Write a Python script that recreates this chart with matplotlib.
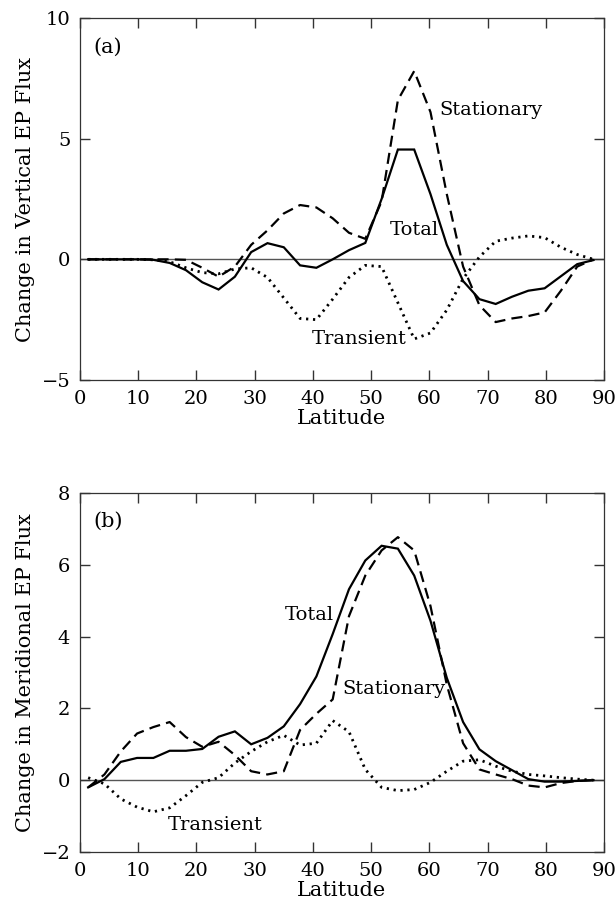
import numpy as np
import matplotlib
matplotlib.use("Agg")
import matplotlib.pyplot as plt

# Latitude grid (degrees)
lat = [1.4 + 2.8 * i for i in range(32)]

# Panel (a): change in vertical EP flux
total_a = [0.0, 0.0, 0.0, 0.0, -0.02, -0.15, -0.45, -0.95, -1.25, -0.72,
           0.3, 0.67, 0.5, -0.25, -0.35, 0.0, 0.38, 0.68, 2.5, 4.55,
           4.55, 2.7, 0.6, -0.9, -1.65, -1.85, -1.55, -1.3, -1.2, -0.7,
           -0.2, -0.03]
stat_a = [0.0, 0.0, 0.0, 0.0, 0.0, 0.0, -0.02, -0.35, -0.72, -0.3,
          0.6, 1.2, 1.9, 2.25, 2.15, 1.7, 1.1, 0.85, 2.4, 6.6,
          7.8, 6.1, 2.7, -0.3, -1.9, -2.6, -2.45, -2.35, -2.2, -1.3,
          -0.3, 0.0]
trans_a = [0.0, 0.0, 0.0, 0.0, -0.02, -0.1, -0.35, -0.55, -0.6, -0.4,
           -0.35, -0.75, -1.6, -2.45, -2.5, -1.65, -0.75, -0.25, -0.3, -1.8,
           -3.3, -3.05, -2.1, -0.8, 0.1, 0.75, 0.88, 0.97, 0.9, 0.5,
           0.2, 0.0]

# Panel (b): change in meridional EP flux
total_b = [-0.2, 0.03, 0.51, 0.62, 0.62, 0.82, 0.82, 0.87, 1.21, 1.36,
           1.0, 1.18, 1.5, 2.12, 2.89, 4.07, 5.32, 6.12, 6.53, 6.45,
           5.7, 4.44, 2.85, 1.62, 0.86, 0.53, 0.28, 0.03, -0.04, -0.04,
           -0.02, 0.0]
stat_b = [-0.2, 0.16, 0.8, 1.3, 1.48, 1.62, 1.2, 0.93, 1.07, 0.7,
          0.25, 0.16, 0.25, 1.4, 1.85, 2.25, 4.57, 5.7, 6.4, 6.77,
          6.4, 4.85, 2.66, 1.03, 0.3, 0.16, 0.03, -0.15, -0.2, -0.08,
          -0.02, 0.0]
trans_b = [0.07, -0.1, -0.52, -0.75, -0.88, -0.77, -0.43, -0.06, 0.07, 0.48,
           0.8, 1.07, 1.25, 0.98, 1.03, 1.66, 1.35, 0.3, -0.2, -0.29,
           -0.26, -0.06, 0.25, 0.53, 0.57, 0.39, 0.25, 0.16, 0.12, 0.07,
           0.03, 0.0]

xticks = [0, 10, 20, 30, 40, 50, 60, 70, 80, 90]
yticks_a = [-5, 0, 5, 10]
yticks_b = [-2, 0, 2, 4, 6, 8]

plt.rcParams['font.family'] = ['DejaVu Serif']
plt.rcParams['mathtext.fontset'] = 'dejavuserif'

W, H = 616, 913
fig = plt.figure(figsize=(W / 100, H / 100), dpi=100)

def make_ax(top_px, bot_px):
    left, right = 80, 604
    return fig.add_axes([left / W, 1 - bot_px / H, (right - left) / W, (bot_px - top_px) / H])

ax_a = make_ax(18, 380)
ax_b = make_ax(493, 852)

panels = [
    (ax_a, total_a, stat_a, trans_a, (-5, 10), yticks_a, "Change in Vertical EP Flux", "(a)",
     [("Stationary", 70.5, 6.2), ("Total", 57.4, 1.2), ("Transient", 48.0, -3.3)]),
    (ax_b, total_b, stat_b, trans_b, (-2, 8), yticks_b, "Change in Meridional EP Flux", "(b)",
     [("Total", 39.4, 4.6), ("Stationary", 54.0, 2.55), ("Transient", 23.2, -1.25)]),
]

for ax, tot, st, tr, ylim, yt, ylabel, tag, labels in panels:
    ax.axhline(0, color='#555555', lw=1.0, zorder=1)
    ax.plot(lat, tot, color='black', lw=1.6, solid_joinstyle='miter', zorder=3)
    ax.plot(lat, st, color='black', lw=1.6, linestyle=(0, (5, 2.8)), zorder=3)
    ax.plot(lat, tr, color='black', lw=2.0, linestyle=(0, (0.8, 1.7)),
            dash_capstyle='butt', zorder=3)
    ax.set_xlim(0, 90)
    ax.set_ylim(*ylim)
    ax.set_xticks(xticks)
    ax.set_yticks(yt)
    ax.set_yticklabels([("\u2212" + str(-v)) if v < 0 else str(v) for v in yt])
    ax.tick_params(direction='in', length=7, width=1, top=True, right=True,
                   labelsize=14, pad=7, color='#333333')
    ax.set_xlabel("Latitude", fontsize=15, labelpad=1)
    ax.set_ylabel(ylabel, fontsize=15, labelpad=5)
    for s in ax.spines.values():
        s.set_linewidth(0.9)
        s.set_color('#333333')
    ax.text(0.025, 0.92, tag, transform=ax.transAxes, fontsize=15, ha='left', va='center')
    for txt, x, y in labels:
        ax.text(x, y, txt, fontsize=14, ha='center', va='center', zorder=4)

fig.savefig("out.png", dpi=100)
